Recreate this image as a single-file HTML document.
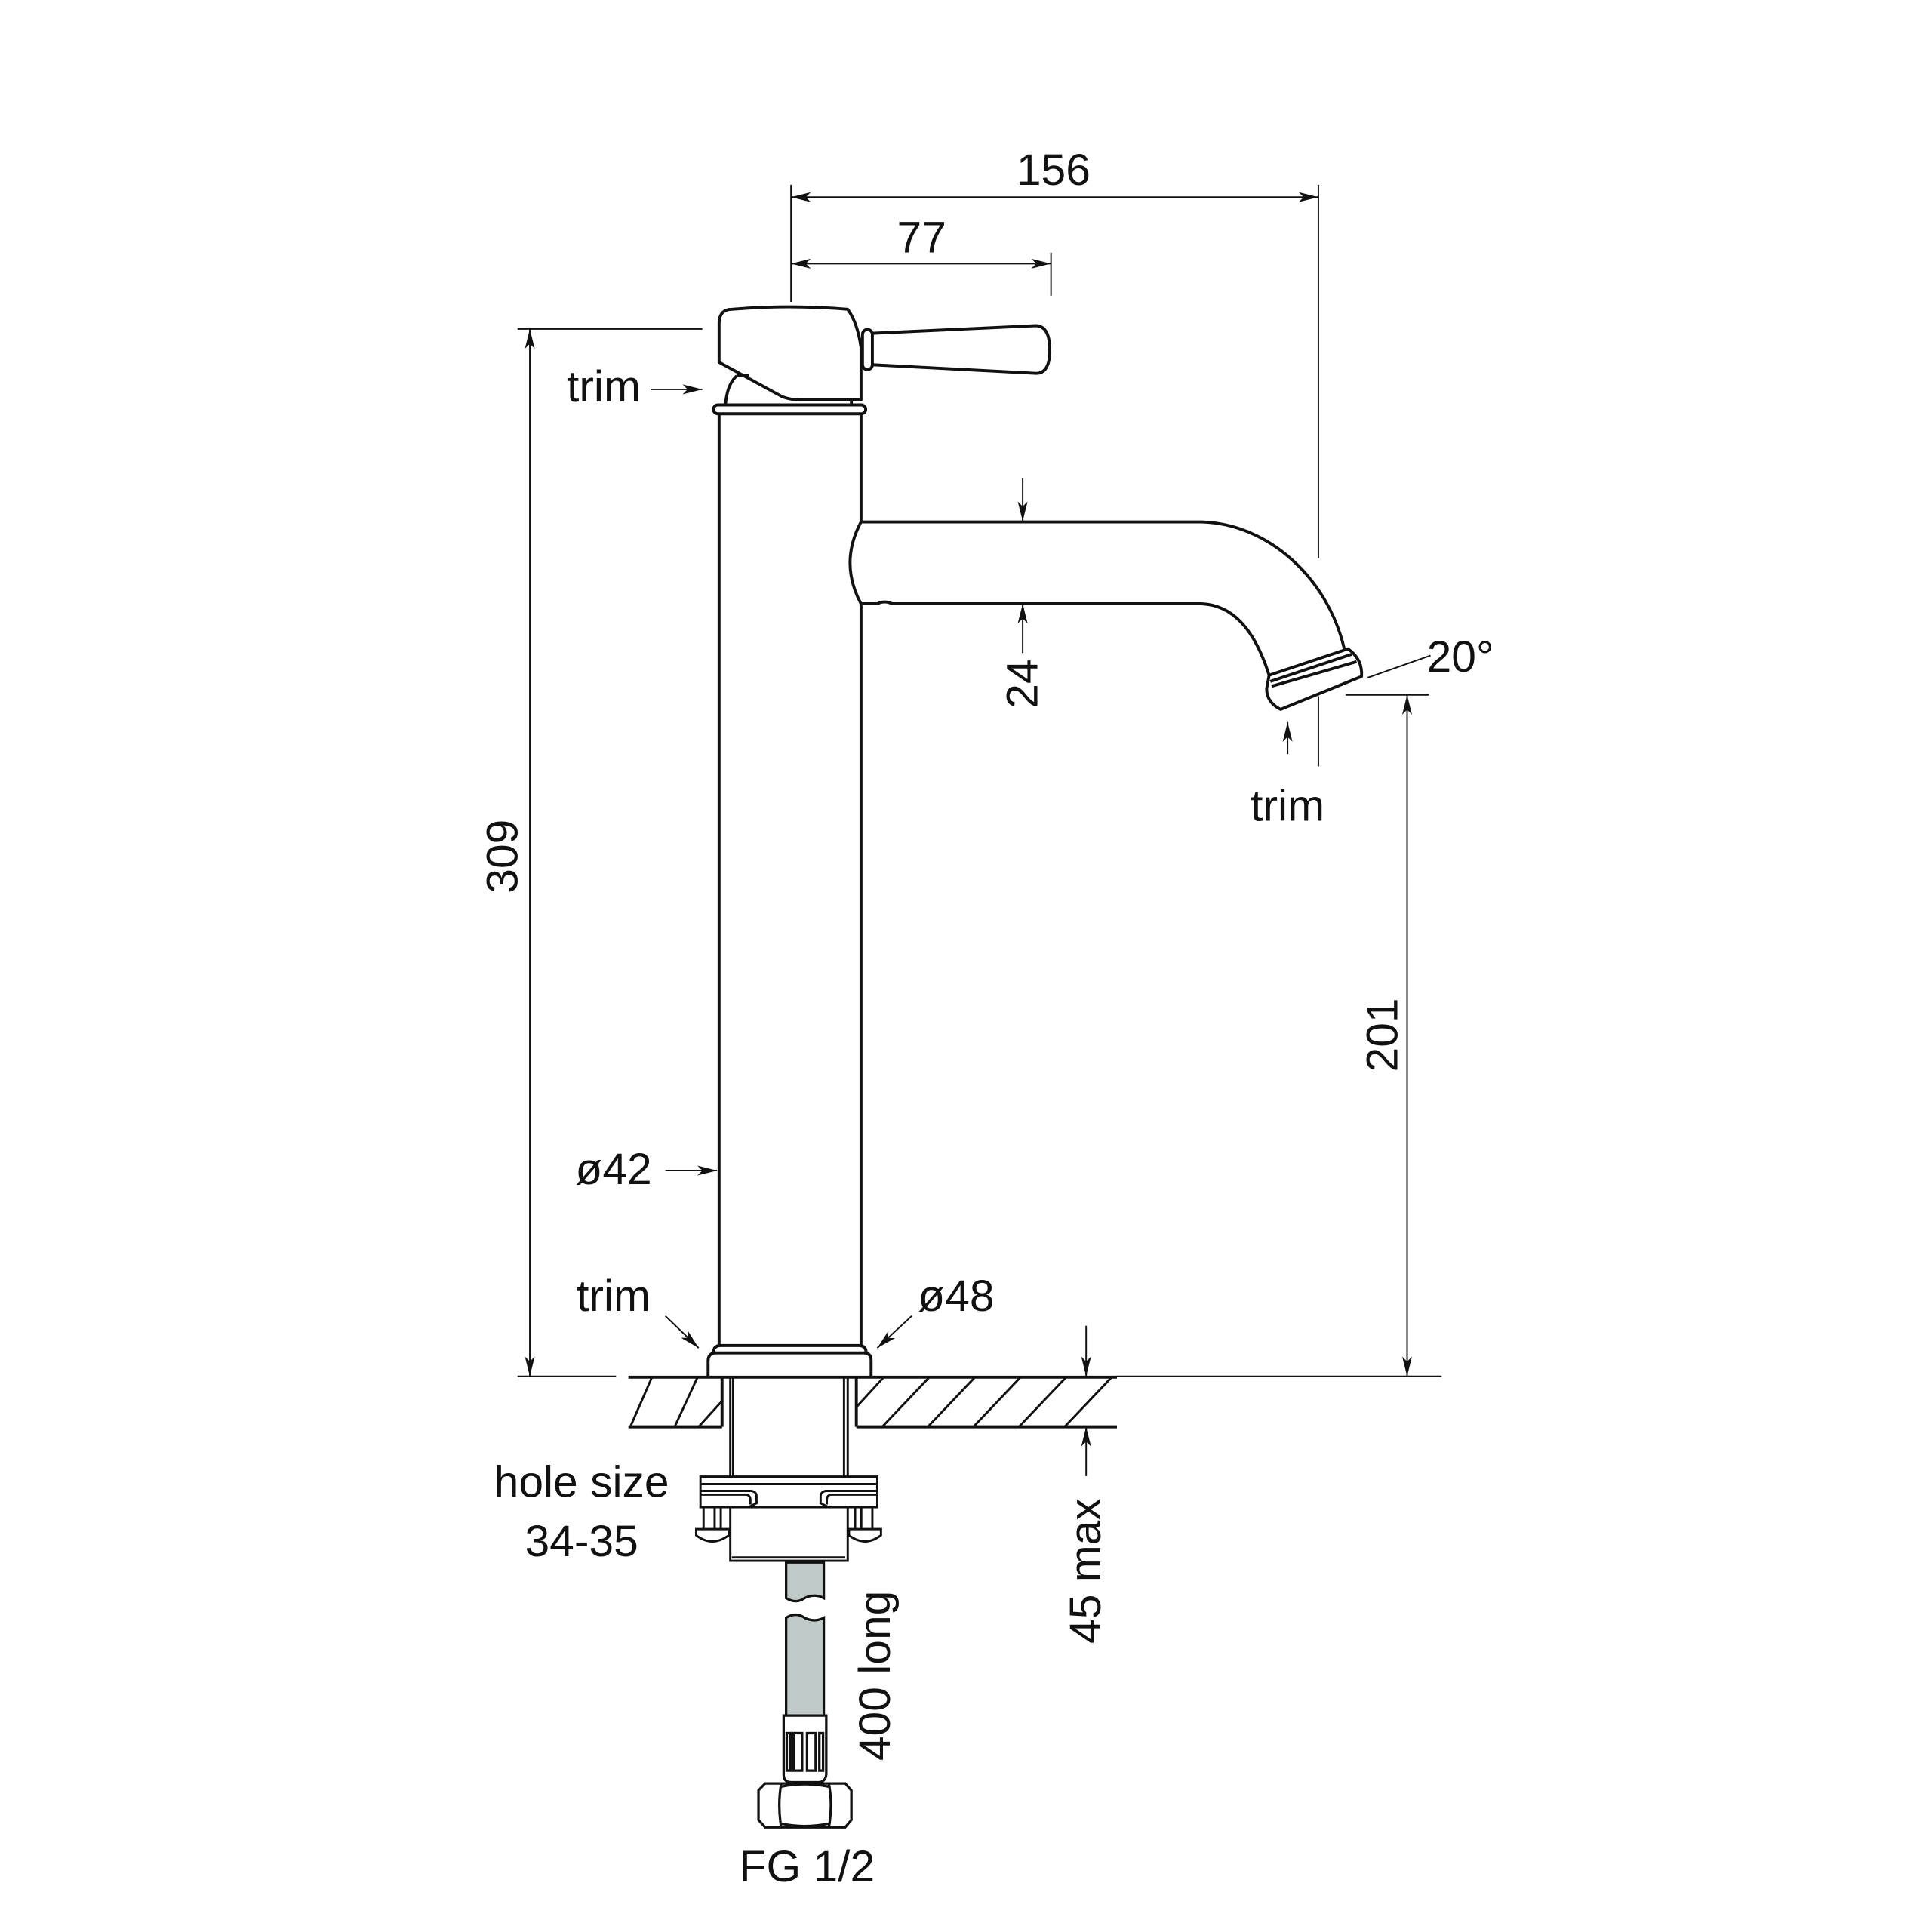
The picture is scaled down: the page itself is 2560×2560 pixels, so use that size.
<!DOCTYPE html>
<html><head><meta charset="utf-8"><style>
html,body{margin:0;padding:0;background:#fff}
svg{display:block}
text{font-family:"Liberation Sans",sans-serif;font-size:36px;fill:#111}
</style></head><body>
<svg width="2560" height="2560" viewBox="0 0 1568 1568" xmlns="http://www.w3.org/2000/svg">
<defs>
<marker id="a" viewBox="0 0 16 8" refX="16" refY="4" markerWidth="16" markerHeight="8" markerUnits="userSpaceOnUse" orient="auto-start-reverse">
<path d="M0,0 L16,4 L0,8 L4,4 Z" fill="#111"/>
</marker>
</defs>
<g fill="none" stroke="#111" stroke-width="1.2">
<!-- 156 -->
<line x1="642" y1="150" x2="642" y2="245"/>
<line x1="1070" y1="150" x2="1070" y2="453"/>
<line x1="642" y1="160" x2="1070" y2="160" marker-start="url(#a)" marker-end="url(#a)"/>
<!-- 77 -->
<line x1="853" y1="205" x2="853" y2="240"/>
<line x1="642" y1="214" x2="853" y2="214" marker-start="url(#a)" marker-end="url(#a)"/>
<!-- 309 -->
<line x1="420" y1="267" x2="570" y2="267"/>
<line x1="420" y1="1117" x2="500" y2="1117"/>
<line x1="430" y1="267" x2="430" y2="1117" marker-start="url(#a)" marker-end="url(#a)"/>
<!-- 201 -->
<line x1="1092" y1="564" x2="1160" y2="564"/>
<line x1="906" y1="1117" x2="1170" y2="1117"/>
<line x1="1142" y1="564" x2="1142" y2="1117" marker-start="url(#a)" marker-end="url(#a)"/>
<!-- 24 -->
<line x1="830" y1="388" x2="830" y2="423" marker-end="url(#a)"/>
<line x1="830" y1="530" x2="830" y2="490" marker-end="url(#a)"/>
<!-- 20deg -->
<line x1="1110" y1="550" x2="1161" y2="532"/>
<!-- trim spout -->
<line x1="1070" y1="565" x2="1070" y2="622"/>
<line x1="1045" y1="612" x2="1045" y2="586" marker-end="url(#a)"/>
<!-- trim top -->
<line x1="528" y1="316" x2="570" y2="316" marker-end="url(#a)"/>
<!-- ø42 -->
<line x1="540" y1="950" x2="582" y2="950" marker-end="url(#a)"/>
<!-- trim bottom / ø48 -->
<line x1="540" y1="1068" x2="567" y2="1094" marker-end="url(#a)"/>
<line x1="740" y1="1068" x2="712" y2="1094" marker-end="url(#a)"/>
<!-- 45 max -->
<line x1="881.5" y1="1076" x2="881.5" y2="1117" marker-end="url(#a)"/>
<line x1="881.5" y1="1198" x2="881.5" y2="1158" marker-end="url(#a)"/>
</g>

<g fill="none" stroke="#111" stroke-width="2.4" stroke-linejoin="round">
<!-- handle body -->
<path d="M598,305 L608,305 M588.8,328.6 Q590,312 598,305"/>
<path d="M583.6,294 L583.6,262 Q584,251 594,251 Q640,247 688,251 Q696,262 698.8,282 L698.8,324.6 L648,324.6 Q640,324 635,322 Z"/>
<path d="M691,324.6 L691,328.6"/>
<!-- lever -->
<rect x="700" y="267.4" width="8" height="32.6" rx="4"/>
<path d="M708,270.5 L841,264.3 Q852,265 852,284 Q852,303 841,303 L708,296"/>
<!-- ring -->
<rect x="579" y="328.6" width="123.6" height="7.2" rx="3.6"/>
<!-- column -->
<line x1="583.6" y1="335.8" x2="583.6" y2="1092"/>
<line x1="698.8" y1="335.8" x2="698.8" y2="423.6"/>
<line x1="698.8" y1="490" x2="698.8" y2="1092"/>
<!-- spout -->
<path d="M698.8,423.6 L975,423.6 C1030,425 1078,470 1091,526.6"/>
<path d="M698.8,490 L712,490 Q718,487 724,490 L975,490 C1000,491 1018,510 1030,548"/>
<path d="M698.8,423.6 Q681,457 698.8,490"/>
<path d="M1030,548 L1094,526.6 Q1106,535 1105,549 L1039.3,575.7 Q1028,570 1028,559 Z"/>
<path d="M1031,553 L1097,531 M1032,557 L1101,537"/>
<!-- base flange -->
<path d="M574.7,1116.7 L574.7,1104 Q575,1098 581,1098 L701,1098 Q707,1098 707,1104 L707,1116.7"/>
<path d="M579,1098 Q579,1092 585,1092 L697,1092 Q703,1092 703,1098"/>
<!-- counter -->
<line x1="510" y1="1117.7" x2="906.5" y2="1117.7"/>
<line x1="510" y1="1158" x2="586" y2="1158"/>
<line x1="695" y1="1158" x2="906.5" y2="1158"/>
<line x1="586" y1="1117.7" x2="586" y2="1158"/>
<line x1="695" y1="1117.7" x2="695" y2="1158"/>
</g>
<g stroke="#111" stroke-width="1.8" fill="none">
<path d="M512,1157 L529,1118 M548,1157 L566,1118 M586,1138 L586,1138"/>
<path d="M567,1158 L586,1137"/>
<path d="M695,1142 L717,1118 M716,1158 L754,1118 M753,1158 L791,1118 M790,1158 L828,1118 M827,1158 L865,1118 M864,1158 L902,1118"/>
<!-- pipe -->
<line x1="592.7" y1="1117.7" x2="592.7" y2="1198.4"/>
<line x1="595" y1="1117.7" x2="595" y2="1198.4"/>
<line x1="685" y1="1117.7" x2="685" y2="1198.4"/>
<line x1="688" y1="1117.7" x2="688" y2="1198.4"/>
<!-- clamp -->
<rect x="568.5" y="1198.4" width="143.5" height="24.8"/>
<line x1="568.5" y1="1204.5" x2="712" y2="1204.5"/>
<path d="M568.5,1210 L610,1210 Q614,1211 614,1214 L614,1220 L608,1223 M568.5,1213 L606,1213 Q609,1214 609,1217 L609,1221"/>
<path d="M712,1210 L670,1210 Q666,1211 666,1214 L666,1220 L672,1223 M712,1213 L674,1213 Q671,1214 671,1217 L671,1221"/>
<!-- screws -->
<path d="M571,1223 L571,1241 M585,1223 L585,1241 M580,1223 L580,1241 M565,1241 L591.5,1241 L591.5,1246 Q578,1256 565,1246 Z"/>
<path d="M694,1223 L694,1241 M708,1223 L708,1241 M699,1223 L699,1241 M689,1241 L715,1241 L715,1246 Q702,1256 689,1246 Z"/>
<!-- lower body -->
<path d="M592.7,1223 L592.7,1266.7 L688,1266.7 L688,1223"/>
<line x1="594" y1="1264" x2="686" y2="1264"/>
</g>
<!-- hose -->
<g stroke="#111" stroke-width="2" fill="#c0cac9">
<path d="M638,1268 L668.6,1268 L668.6,1297 Q661,1293 653,1297 Q646,1302 638,1297 Z"/>
<path d="M638,1392.3 L638,1313 Q646,1308 653,1313 Q661,1317 668.6,1313 L668.6,1392.3 Z"/>
</g>
<g stroke="#111" stroke-width="2" fill="#fff">
<path d="M636,1392.3 L670.6,1392.3 L670.6,1440 Q670,1446.4 664,1446.4 L642,1446.4 Q636,1446.4 636,1440 Z"/>
<rect x="638.5" y="1406.6" width="3" height="30.4"/>
<rect x="644" y="1406.6" width="7" height="30.4"/>
<rect x="655" y="1406.6" width="7" height="30.4"/>
<rect x="665" y="1406.6" width="3" height="30.4"/>
<path d="M621,1447.4 L686,1447.4 L691,1453 L691,1477 L686,1483 L621,1483 L615.6,1477 L615.6,1453 Z"/>
<path d="M634,1447.4 Q631,1465 634,1483 M672.7,1447.4 Q676,1465 672.7,1483 M634,1450 Q653,1446 672.7,1450 M634,1480 Q653,1484 672.7,1480"/>
</g>

<!-- text -->
<text x="855" y="150" text-anchor="middle">156</text>
<text x="748" y="205" text-anchor="middle">77</text>
<text x="460" y="326">trim</text>
<text x="1158" y="545">20°</text>
<text x="1045" y="666" text-anchor="middle">trim</text>
<text x="498" y="961" text-anchor="middle">ø42</text>
<text x="498" y="1064" text-anchor="middle">trim</text>
<text x="776" y="1064" text-anchor="middle">ø48</text>
<text x="472" y="1215" text-anchor="middle">hole size</text>
<text x="472" y="1263" text-anchor="middle">34-35</text>
<text x="655" y="1527" text-anchor="middle">FG 1/2</text>
<text transform="translate(420,695) rotate(-90)" text-anchor="middle">309</text>
<text transform="translate(842,555) rotate(-90)" text-anchor="middle">24</text>
<text transform="translate(1134,840) rotate(-90)" text-anchor="middle">201</text>
<text transform="translate(893,1275) rotate(-90)" text-anchor="middle">45 max</text>
<text transform="translate(722,1360) rotate(-90)" text-anchor="middle">400 long</text>
</svg>
</body></html>
